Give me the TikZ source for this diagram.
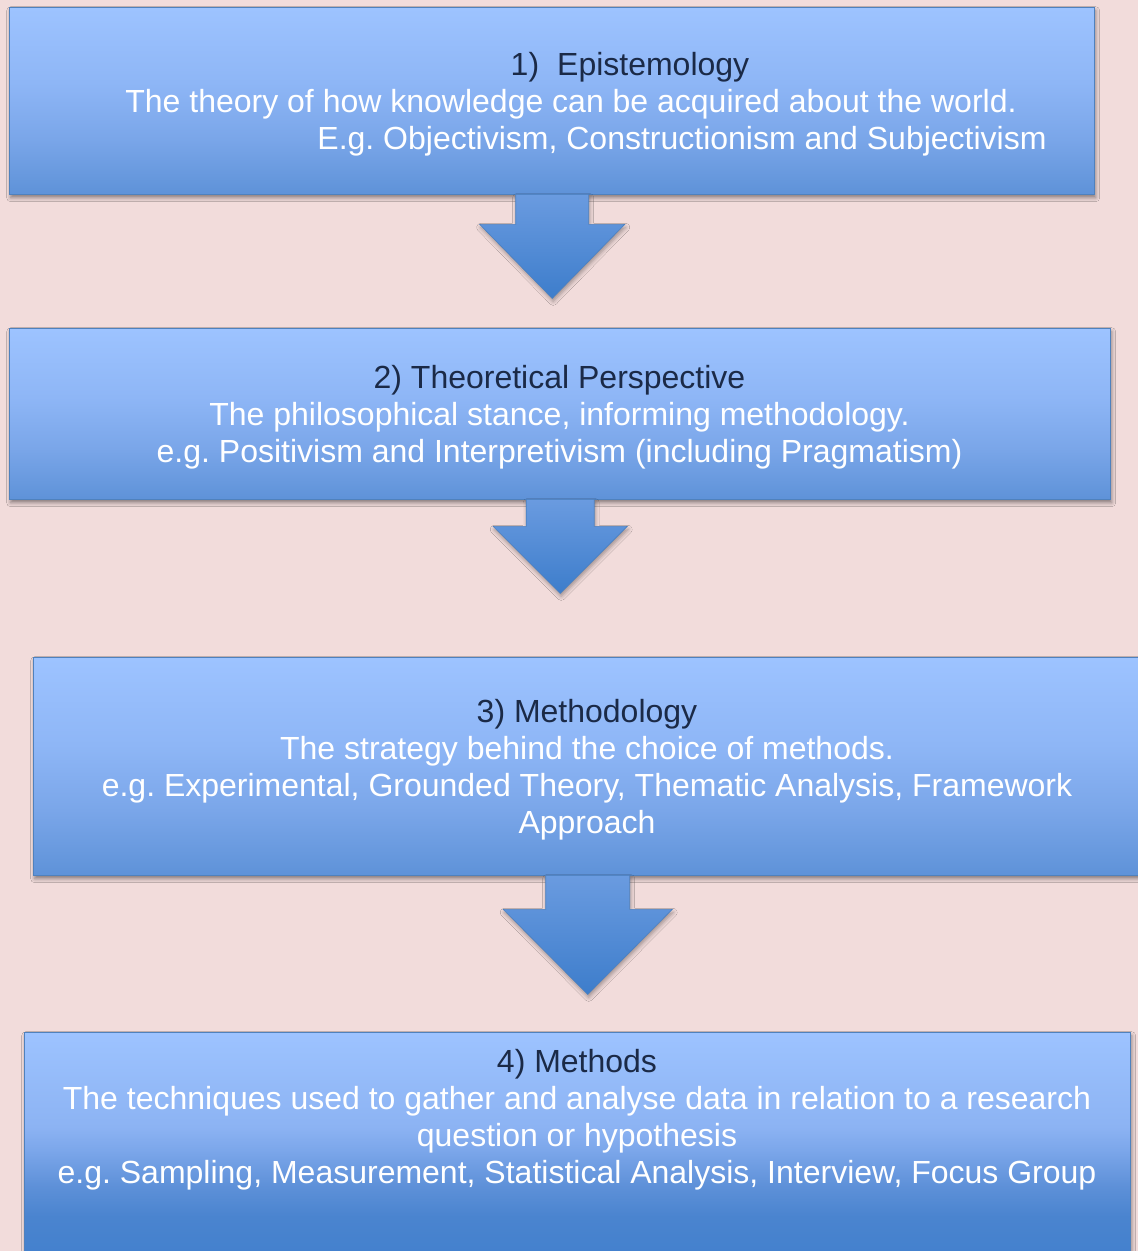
\documentclass[tikz,border=0pt]{standalone}
\usepackage{fontspec}
\setmainfont{Liberation Sans}
\usetikzlibrary{shadows.blur}
\frenchspacing

\definecolor{bgpink}{HTML}{F2DCDB}
\definecolor{boxtop}{HTML}{9DC3FF}
\definecolor{boxmidhi}{HTML}{8EB6F6}
\definecolor{boxmidlo}{HTML}{7AA6E9}
\definecolor{boxbot}{HTML}{5E92D8}
\definecolor{deepA}{HTML}{8CB3F3}
\definecolor{deepB}{HTML}{7BA6EA}
\definecolor{deepC}{HTML}{5D90D8}
\definecolor{deepD}{HTML}{4A84CF}
\definecolor{deepbot}{HTML}{4280CD}
\definecolor{edgeblue}{HTML}{4F81BD}
\definecolor{titlenavy}{HTML}{1B2A47}
\definecolor{arrowtop}{HTML}{6A9BE0}
\definecolor{arrowbot}{HTML}{3D7DCB}

% light-to-dark panel gradient (top light, bottom darker)
\pgfdeclareverticalshading{panelfill}{100bp}{color(0bp)=(boxbot); color(25bp)=(boxbot); color(40bp)=(boxmidlo); color(55bp)=(boxmidhi); color(75bp)=(boxtop); color(100bp)=(boxtop)}
% deeper gradient for the last, taller panel
\pgfdeclareverticalshading{panelfilldeep}{100bp}{color(0bp)=(deepbot); color(25bp)=(deepbot); color(35bp)=(deepD); color(41.5bp)=(deepC); color(49.3bp)=(deepB); color(54.5bp)=(deepA); color(75bp)=(boxtop); color(100bp)=(boxtop)}

\tikzset{
  panel/.style={rectangle, anchor=north west, inner sep=0pt, draw=edgeblue,
    line width=1.4pt, shading=panelfill,
    blur shadow={shadow xshift=1pt, shadow yshift=-3pt, shadow blur radius=4pt, shadow opacity=45}},
  downarrow/.style={draw=edgeblue!80!arrowbot, line width=0.6pt, line join=miter,
    top color=arrowtop, bottom color=arrowbot,
    blur shadow={shadow xshift=1pt, shadow yshift=-3pt, shadow blur radius=4pt, shadow opacity=35}},
  bodytext/.style={anchor=base, inner sep=0pt, font=\fontsize{32}{37}\selectfont, text=white},
  titletext/.style={bodytext, text=titlenavy}
}

\begin{document}
\begin{tikzpicture}[x=1pt, y=-1pt]
  \clip (0,0) rectangle (1138,1251);
  \fill[bgpink] (0,0) rectangle (1138,1251);

  % panels
  \node (b1) [panel, minimum width=1085pt, minimum height=187pt] at (9,7) {};
  \node (b2) [panel, minimum width=1101pt, minimum height=171pt] at (9,328) {};
  \node (b3) [panel, minimum width=1108pt, minimum height=218pt] at (33,657) {};
  \node (b4) [panel, shading=panelfilldeep, minimum width=1106pt, minimum height=230pt] at (24,1032) {};

  % block arrows hanging from each panel towards the next
  \begin{scope}[shift={(b1.south)}]
    \path[downarrow] (-36.5,-1) -- (-36.5,29) -- (-72.5,29) -- (0,103)
      -- (72.5,29) -- (36.5,29) -- (36.5,-1) -- cycle;
  \end{scope}
  \begin{scope}[shift={(b2.south)}]
    \path[downarrow] (-34,-1) -- (-34,26) -- (-67,26) -- (0,93)
      -- (67,26) -- (34,26) -- (34,-1) -- cycle;
  \end{scope}
  \begin{scope}[shift={(b3.south)}]
    \path[downarrow] (-42,-1) -- (-42,33) -- (-84.5,33) -- (0,118)
      -- (84.5,33) -- (42,33) -- (42,-1) -- cycle;
  \end{scope}

  % panel 1 text
  \node (b1t) [titletext] at (630,75) {1)\hspace{18pt}Epistemology};
  \node (b1a) [bodytext] at (571,112) {The theory of how knowledge can be acquired about the world.};
  \node (b1b) [bodytext] at (682,149) {E.g. Objectivism, Constructionism and Subjectivism};

  % panel 2 text
  \node (b2t) [titletext] at (559.5,388) {2) Theoretical Perspective};
  \node (b2a) [bodytext] at (559.5,425) {The philosophical stance, informing methodology.};
  \node (b2b) [bodytext] at (559.5,462) {e.g. Positivism and Interpretivism (including Pragmatism)};

  % panel 3 text
  \node (b3t) [titletext] at (587,722) {3) Methodology};
  \node (b3a) [bodytext] at (587,759) {The strategy behind the choice of methods.};
  \node (b3b) [bodytext] at (587,796) {e.g. Experimental, Grounded Theory, Thematic Analysis, Framework};
  \node (b3c) [bodytext] at (587,833) {Approach};

  % panel 4 text
  \node (b4t) [titletext] at (577,1072) {4) Methods};
  \node (b4a) [bodytext] at (577,1109) {The techniques used to gather and analyse data in relation to a research};
  \node (b4b) [bodytext] at (577,1146) {question or hypothesis};
  \node (b4c) [bodytext] at (577,1183) {e.g. Sampling, Measurement, Statistical Analysis, Interview, Focus Group};
\end{tikzpicture}
\end{document}
